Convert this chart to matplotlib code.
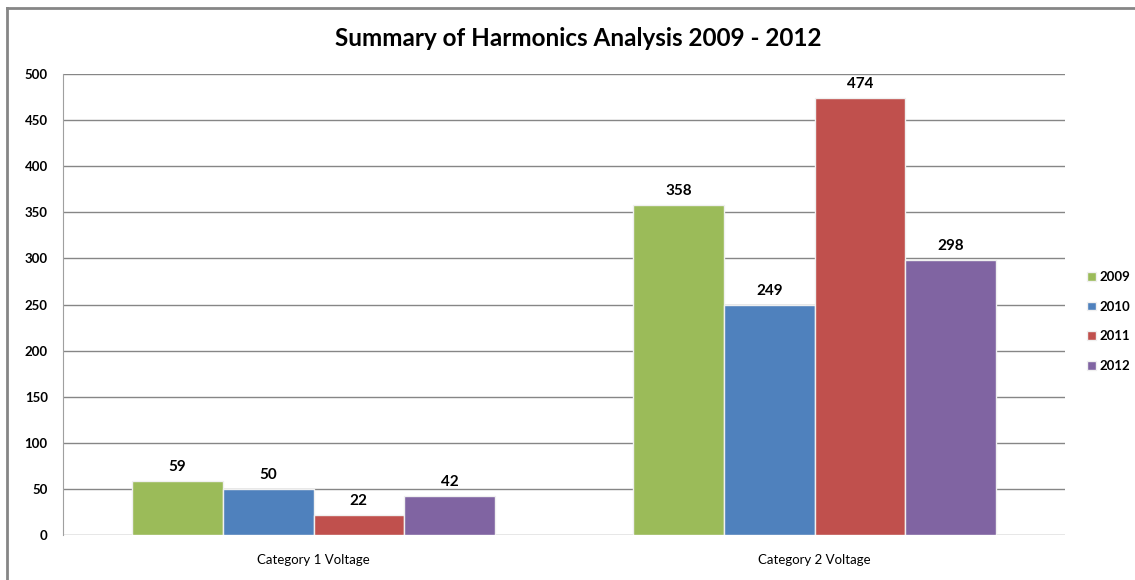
import matplotlib.pyplot as plt
import numpy as np

categories = ['Category 1 Voltage', 'Category 2 Voltage']
years = ['2009', '2010', '2011', '2012']
values = {
    '2009': [59, 358],
    '2010': [50, 249],
    '2011': [22, 474],
    '2012': [42, 298],
}
colors = ['#9BBB59', '#4F81BD', '#C0504D', '#8064A2']
y_ticks = [0, 50, 100, 150, 200, 250, 300, 350, 400, 450, 500]

plt.rcParams['font.family'] = ['Lato', 'DejaVu Sans']

fig = plt.figure(figsize=(11.35, 5.8), dpi=100)
ax = fig.add_axes([63 / 1135, 45 / 580, 1002 / 1135, 461 / 580])

x = np.arange(len(categories))
w = 0.181
for i, (yr, c) in enumerate(zip(years, colors)):
    pos = x + (i - 1.5) * w
    bars = ax.bar(pos, values[yr], width=w, color=c, edgecolor='#f0f0f0',
                  linewidth=1, label=yr, zorder=3)
    for b, v in zip(bars, values[yr]):
        ax.annotate(str(v), (b.get_x() + b.get_width() / 2, v),
                    xytext=(0, 5), textcoords='offset points',
                    ha='center', va='bottom', fontsize=11, fontweight='bold')

ax.set_xlim(-0.5, 1.5)
ax.set_ylim(0, 500)
ax.set_yticks(y_ticks)
ax.set_yticklabels([str(t) for t in y_ticks], fontsize=9.5, fontweight='bold')
ax.set_xticks(x)
ax.set_xticklabels(categories, fontsize=9.5)
ax.tick_params(axis='x', length=0, pad=14)
ax.tick_params(axis='y', length=0, pad=11)
ax.yaxis.grid(True, color='#868686', linewidth=1, zorder=0)
for s in ['top', 'right', 'bottom']:
    ax.spines[s].set_visible(False)
ax.spines['left'].set_color('#a0a0a0')

fig.text(578 / 1135, 1 - 38 / 580, 'Summary of Harmonics Analysis 2009 - 2012',
         ha='center', va='center', fontsize=17.5, fontweight='bold')

ax.legend(loc='center left', bbox_to_anchor=(1.022, 0.463), frameon=False,
          prop={'weight': 'bold', 'size': 9.5}, borderpad=0, borderaxespad=0,
          handlelength=0.65, handleheight=0.65, handletextpad=0.3,
          labelspacing=1.35)

# chart frame (left and top edges visible)
fig.add_artist(plt.Line2D([7 / 1135, 7 / 1135], [0, 1 - 8 / 580],
                          transform=fig.transFigure, color='#868686', linewidth=2))
fig.add_artist(plt.Line2D([7 / 1135, 1], [1 - 8 / 580, 1 - 8 / 580],
                          transform=fig.transFigure, color='#868686', linewidth=2))

fig.savefig('out.png', dpi=100)
